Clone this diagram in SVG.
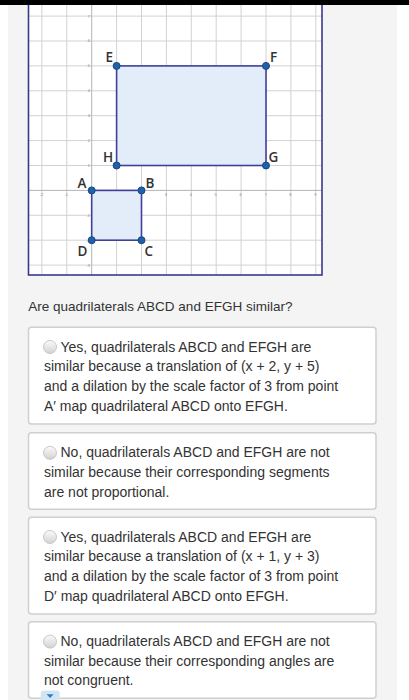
<svg xmlns="http://www.w3.org/2000/svg" width="409" height="700" viewBox="0 0 409 700">
<defs>
<linearGradient id="rg" x1="0" y1="0" x2="0" y2="1">
<stop offset="0" stop-color="#fbfbfb"/>
<stop offset="1" stop-color="#d2d2d2"/>
</linearGradient>
</defs>
<style>
.grid{stroke:#d2d2d2;stroke-width:1;fill:none}
.axis{stroke:#b4b4b4;stroke-width:1;fill:none}
.tick{font-family:"Liberation Sans",Arial,sans-serif;font-size:4px;fill:#888}
.shape{fill:#e3edf9;stroke:#3f3f9c;stroke-width:1.6}
.pt{fill:#1f62ab;stroke:#16467e;stroke-width:1}
.lbl{font-family:"Open Sans","Liberation Sans",sans-serif;font-weight:600;font-size:13.5px;fill:#333}
.q{font-family:"Liberation Sans",Arial,sans-serif;font-size:13.5px;fill:#333}
.opt{font-family:"Liberation Sans",Arial,sans-serif;font-size:14px;fill:#333}
.box{fill:#fff;stroke:#cfcfcf;stroke-width:1.5}
.radio{fill:url(#rg);stroke:#bdbdbd;stroke-width:0.8}
</style>
<rect x="0" y="0" width="409" height="700" fill="#fff"/>
<rect x="8" y="0" width="389" height="700" fill="#f4f4f4"/>

<g id="graph">
<rect x="28.5" y="-2" width="293.5" height="277" fill="#fff"/>
<g class="grid">
<line x1="41.9" y1="0" x2="41.9" y2="275"/>
<line x1="66.8" y1="0" x2="66.8" y2="275"/>
<line x1="116.6" y1="0" x2="116.6" y2="275"/>
<line x1="141.5" y1="0" x2="141.5" y2="275"/>
<line x1="166.4" y1="0" x2="166.4" y2="275"/>
<line x1="191.3" y1="0" x2="191.3" y2="275"/>
<line x1="216.2" y1="0" x2="216.2" y2="275"/>
<line x1="241.1" y1="0" x2="241.1" y2="275"/>
<line x1="266" y1="0" x2="266" y2="275"/>
<line x1="290.9" y1="0" x2="290.9" y2="275"/>
<line x1="315.8" y1="0" x2="315.8" y2="275"/>
<line x1="28.5" y1="16.1" x2="322" y2="16.1"/>
<line x1="28.5" y1="41" x2="322" y2="41"/>
<line x1="28.5" y1="65.9" x2="322" y2="65.9"/>
<line x1="28.5" y1="90.8" x2="322" y2="90.8"/>
<line x1="28.5" y1="115.7" x2="322" y2="115.7"/>
<line x1="28.5" y1="140.6" x2="322" y2="140.6"/>
<line x1="28.5" y1="165.5" x2="322" y2="165.5"/>
<line x1="28.5" y1="215.3" x2="322" y2="215.3"/>
<line x1="28.5" y1="240.2" x2="322" y2="240.2"/>
<line x1="28.5" y1="265.1" x2="322" y2="265.1"/>
</g>
<g class="axis">
<line x1="91.7" y1="0" x2="91.7" y2="275"/>
<line x1="28.5" y1="190.4" x2="322" y2="190.4"/>
</g>
<g class="tick" text-anchor="end">
<text x="90" y="17.5">7</text>
<text x="90" y="42.4">6</text>
<text x="90" y="67.3">5</text>
<text x="90" y="92.2">4</text>
<text x="90" y="117.1">3</text>
<text x="90" y="142">2</text>
<text x="90" y="166.9">1</text>
<text x="90" y="216.7">-1</text>
<text x="90" y="241.6">-2</text>
<text x="90" y="266.5">-3</text>
</g>
<g class="tick" text-anchor="middle">
<text x="41.4" y="195.6">-2</text>
<text x="66.3" y="195.6">-1</text>
<text x="116.1" y="195.6">1</text>
<text x="141" y="195.6">2</text>
<text x="165.9" y="195.6">3</text>
<text x="190.8" y="195.6">4</text>
<text x="215.7" y="195.6">5</text>
<text x="240.6" y="195.6">6</text>
<text x="265.5" y="195.6">7</text>
<text x="290.4" y="195.6">8</text>
<text x="315.3" y="195.6">9</text>
</g>
<rect x="28.5" y="-2" width="293.5" height="277" fill="none" stroke="#3a3a8a" stroke-width="1.6"/>
</g>

<g id="EFGH">
<rect class="shape" x="116.6" y="65.9" width="149.4" height="99.6"/>
<circle class="pt" cx="116.6" cy="65.9" r="3.5"/>
<circle class="pt" cx="266" cy="65.9" r="3.5"/>
<circle class="pt" cx="266" cy="165.5" r="3.5"/>
<circle class="pt" cx="116.6" cy="165.5" r="3.5"/>
<text class="lbl" x="105.5" y="61.5">E</text>
<text class="lbl" x="270" y="61.5">F</text>
<text class="lbl" x="268.5" y="161.5">G</text>
<text class="lbl" x="103" y="161.5">H</text>
</g>

<g id="ABCD">
<rect class="shape" x="91.7" y="190.4" width="49.8" height="49.8"/>
<circle class="pt" cx="91.7" cy="190.4" r="3.5"/>
<circle class="pt" cx="141.5" cy="190.4" r="3.5"/>
<circle class="pt" cx="141.5" cy="240.2" r="3.5"/>
<circle class="pt" cx="91.7" cy="240.2" r="3.5"/>
<text class="lbl" x="77.5" y="187.5">A</text>
<text class="lbl" x="145.5" y="187.5">B</text>
<text class="lbl" x="144.5" y="255.5">C</text>
<text class="lbl" x="77.5" y="255.5">D</text>
</g>

<rect x="0" y="0" width="409" height="5" fill="#000"/>

<text class="q" x="28.3" y="310.5">Are quadrilaterals ABCD and EFGH similar?</text>

<g id="option1">
<rect class="box" x="28.5" y="327.3" width="347.5" height="96.7" rx="3"/>
<circle class="radio" cx="50" cy="347" r="6.5"/>
<text class="opt" x="60.5" y="351.7">Yes, quadrilaterals ABCD and EFGH are</text>
<text class="opt" x="44" y="371.3">similar because a translation of (x + 2, y + 5)</text>
<text class="opt" x="44" y="390.9">and a dilation by the scale factor of 3 from point</text>
<text class="opt" x="44" y="410.5">A′ map quadrilateral ABCD onto EFGH.</text>
</g>

<g id="option2">
<rect class="box" x="28.5" y="432.7" width="347.5" height="76.6" rx="3"/>
<circle class="radio" cx="50" cy="452.8" r="6.5"/>
<text class="opt" x="60.5" y="457.3">No, quadrilaterals ABCD and EFGH are not</text>
<text class="opt" x="44" y="476.9">similar because their corresponding segments</text>
<text class="opt" x="44" y="496.5">are not proportional.</text>
</g>

<g id="option3">
<rect class="box" x="28.5" y="517.3" width="347.5" height="96.7" rx="3"/>
<circle class="radio" cx="50" cy="537" r="6.5"/>
<text class="opt" x="60.5" y="541.7">Yes, quadrilaterals ABCD and EFGH are</text>
<text class="opt" x="44" y="561.3">similar because a translation of (x + 1, y + 3)</text>
<text class="opt" x="44" y="580.9">and a dilation by the scale factor of 3 from point</text>
<text class="opt" x="44" y="600.5">D′ map quadrilateral ABCD onto EFGH.</text>
</g>

<g id="option4">
<rect class="box" x="28.5" y="621.7" width="347.5" height="76.6" rx="3"/>
<circle class="radio" cx="50" cy="641.6" r="6.5"/>
<text class="opt" x="60.5" y="646.1">No, quadrilaterals ABCD and EFGH are not</text>
<text class="opt" x="44" y="665.5">similar because their corresponding angles are</text>
<text class="opt" x="44" y="684.5">not congruent.</text>
</g>

<g id="dropdown-tab">
<rect x="40.7" y="690.5" width="19" height="14" rx="3" fill="#d3e4f3"/>
<polygon points="46.6,694.3 53.6,694.3 50.1,698" fill="#2a7bc0"/>
</g>
</svg>
